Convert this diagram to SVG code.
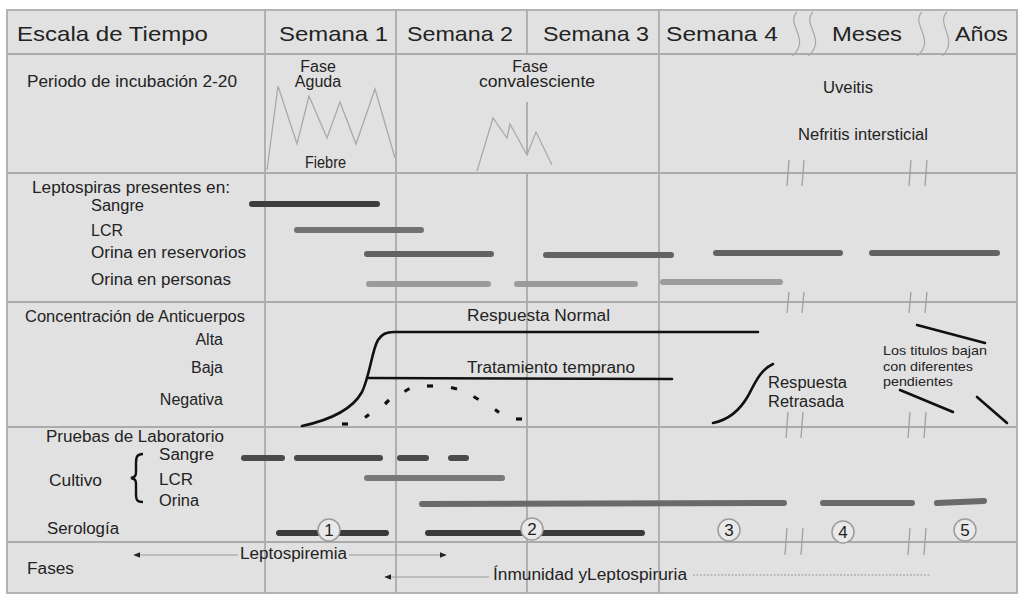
<svg xmlns="http://www.w3.org/2000/svg" width="1021" height="596" viewBox="0 0 1021 596">
<defs>
<style>
text{font-family:"Liberation Sans",Arial,sans-serif;fill:#232323;}
.h{font-size:21px;}
.l{font-size:16px;}
.s{font-size:13px;}
.r{text-anchor:end;}
.c{text-anchor:middle;}
.grid{stroke:#ababab;stroke-width:1.8;fill:none;}
.brk{stroke:#a0a0a0;stroke-width:1.3;fill:none;}
.sq{stroke:#a8a8a8;stroke-width:1.2;fill:none;}
.fev{stroke:#a9a9a9;stroke-width:1.3;fill:none;stroke-linejoin:miter;}
.bar{fill:none;stroke-linecap:round;stroke-width:6;}
.ab{fill:none;stroke:#111;stroke-width:2.6;stroke-linecap:round;}
.dot{stroke:#111;stroke-width:3.2;}
.circ{fill:#e9e9e9;stroke:#9c9c9c;stroke-width:1.5;}
.num{font-size:17px;text-anchor:middle;fill:#1e1e1e;}
.arr{stroke:#9a9a9a;stroke-width:1.2;fill:none;}
</style>
<marker id="ah" viewBox="0 0 10 10" refX="9" refY="5" markerWidth="7" markerHeight="7" orient="auto-start-reverse" markerUnits="userSpaceOnUse">
<path d="M0,1 L10,5 L0,9 Z" fill="#222"/>
</marker>
</defs>

<g id="frame">
<rect x="7" y="10" width="1010" height="583" fill="#e1e1e1" stroke="#b3b3b3" stroke-width="2"/>
<line class="grid" x1="7" y1="54" x2="1017" y2="54"/>
<line class="grid" x1="7" y1="173" x2="1017" y2="173"/>
<line class="grid" x1="7" y1="302" x2="1017" y2="302"/>
<line class="grid" x1="7" y1="427" x2="1017" y2="427"/>
<line class="grid" x1="7" y1="542" x2="1017" y2="542"/>
<line class="grid" x1="265" y1="10" x2="265" y2="593"/>
<line class="grid" x1="396" y1="10" x2="396" y2="593"/>
<path class="grid" d="M527,10 V54 M527,102 V155 M527,173 V593"/>
<line class="grid" x1="659" y1="10" x2="659" y2="593"/>
</g>

<g id="breaks">
<path class="brk" d="M789,160 L787,186 M804,160 L802,186 M911,160 L909,186 M927,160 L925,186"/>
<path class="brk" d="M789,292 L787,313 M804,292 L802,313 M911,292 L909,313 M927,292 L925,313"/>
<path class="brk" d="M788,412 L786,438 M803,412 L801,438 M910,412 L908,438 M926,412 L924,438"/>
<path class="brk" d="M787,528 L785,555 M803,528 L801,555 M910,528 L908,555 M926,528 L924,555"/>
</g>

<g id="header">
<text class="h" x="17" y="41" textLength="191" lengthAdjust="spacingAndGlyphs">Escala de Tiempo</text>
<text class="h" x="279" y="41" textLength="109" lengthAdjust="spacingAndGlyphs">Semana 1</text>
<text class="h" x="407" y="41" textLength="106" lengthAdjust="spacingAndGlyphs">Semana 2</text>
<text class="h" x="543" y="41" textLength="106" lengthAdjust="spacingAndGlyphs">Semana 3</text>
<text class="h" x="666" y="41" textLength="112" lengthAdjust="spacingAndGlyphs">Semana 4</text>
<text class="h" x="832" y="41" textLength="70" lengthAdjust="spacingAndGlyphs">Meses</text>
<text class="h" x="955" y="41" textLength="53" lengthAdjust="spacingAndGlyphs">Años</text>
<path class="sq" d="M797,12 C785,24 812,40 792,56 M813,12 C801,24 828,40 808,56 M922,12 C910,24 937,40 917,56 M947,12 C935,24 960,40 942,56"/>
</g>

<g id="clinical">
<text class="l" x="27" y="87" textLength="210" lengthAdjust="spacingAndGlyphs">Periodo de incubación 2-20</text>
<text class="l c" x="318" y="72">Fase</text>
<text class="l c" x="318" y="87">Aguda</text>
<text class="l" x="305" y="168" textLength="41" lengthAdjust="spacingAndGlyphs">Fiebre</text>
<path class="fev" d="M267,170 L278,86 L297,144 L309,96 L327,138 L340,102 L356,144 L375,89 L395,158"/>
<text class="l c" x="530" y="72">Fase</text>
<text class="l" x="479" y="87" textLength="116" lengthAdjust="spacingAndGlyphs">convalesciente</text>
<path class="fev" d="M477,171 L493,118 L507,138 L510,124 L527,155 L536,132 L552,165"/>
<text class="l" x="823" y="93" textLength="50" lengthAdjust="spacingAndGlyphs">Uveitis</text>
<text class="l" x="798" y="140" textLength="130" lengthAdjust="spacingAndGlyphs">Nefritis intersticial</text>
</g>

<g id="leptospiras">
<text class="l" x="32" y="193" textLength="198" lengthAdjust="spacingAndGlyphs">Leptospiras presentes en:</text>
<text class="l" x="91" y="211" textLength="53" lengthAdjust="spacingAndGlyphs">Sangre</text>
<text class="l" x="91" y="236" textLength="32" lengthAdjust="spacingAndGlyphs">LCR</text>
<text class="l" x="91" y="258" textLength="155" lengthAdjust="spacingAndGlyphs">Orina en reservorios</text>
<text class="l" x="91" y="285" textLength="140" lengthAdjust="spacingAndGlyphs">Orina en personas</text>
<path class="bar" stroke="#3e3e3e" d="M252,204 L377,204"/>
<path class="bar" stroke="#727272" d="M297,230 L421,230"/>
<path class="bar" stroke="#626262" d="M367,254 L491,254 M546,255 L671,255 M716,253 L840,253 M872,253 L997,253"/>
<path class="bar" stroke="#9b9b9b" d="M369,284 L488,284 M517,284 L635,284 M663,282 L780,282"/>
</g>

<g id="anticuerpos">
<text class="l" x="25" y="322" textLength="220" lengthAdjust="spacingAndGlyphs">Concentración de Anticuerpos</text>
<text class="l r" x="223" y="345">Alta</text>
<text class="l r" x="223" y="373">Baja</text>
<text class="l r" x="223" y="405">Negativa</text>
<text class="l" x="467" y="321" textLength="143" lengthAdjust="spacingAndGlyphs">Respuesta Normal</text>
<text class="l" x="467" y="373" textLength="168" lengthAdjust="spacingAndGlyphs">Tratamiento temprano</text>
<path class="ab" d="M302,426 C330,420 352,410 362,392 C370,375 372,350 378,340 C382,334 386,332 394,332 L758,332"/>
<path class="ab" d="M367,378 L672,379"/>
<path class="ab" d="M713,423 C728,420 740,410 748,396 C755,383 760,370 773,364"/>
<g id="dotted">
<line class="dot" x1="342" y1="424" x2="348" y2="424"/>
<line class="dot" x1="365" y1="417.5" x2="369" y2="414.5"/>
<line class="dot" x1="385" y1="404" x2="389" y2="400"/>
<line class="dot" x1="404.5" y1="391.5" x2="409.5" y2="388.5"/>
<line class="dot" x1="427" y1="386" x2="433" y2="386"/>
<line class="dot" x1="451" y1="387.5" x2="457" y2="389"/>
<line class="dot" x1="473.5" y1="396.5" x2="478.5" y2="399.5"/>
<line class="dot" x1="495" y1="409.5" x2="499" y2="412.5"/>
<line class="dot" x1="516" y1="419" x2="522" y2="419"/>
</g>
<text class="l" x="768" y="388" textLength="79" lengthAdjust="spacingAndGlyphs">Respuesta</text>
<text class="l" x="768" y="407" textLength="76" lengthAdjust="spacingAndGlyphs">Retrasada</text>
<text class="s" x="883" y="355" textLength="104" lengthAdjust="spacingAndGlyphs">Los titulos bajan</text>
<text class="s" x="883" y="371" textLength="90" lengthAdjust="spacingAndGlyphs">con diferentes</text>
<text class="s" x="883" y="386" textLength="70" lengthAdjust="spacingAndGlyphs">pendientes</text>
<path class="ab" d="M917,325 L985,343 M900,390 L953,412 M977,397 L1007,423"/>
</g>

<g id="laboratorio">
<text class="l" x="46" y="442" textLength="178" lengthAdjust="spacingAndGlyphs">Pruebas de Laboratorio</text>
<text class="l" x="159" y="460" textLength="55" lengthAdjust="spacingAndGlyphs">Sangre</text>
<text class="l" x="49" y="486" textLength="53" lengthAdjust="spacingAndGlyphs">Cultivo</text>
<text class="l" x="159" y="485" textLength="34" lengthAdjust="spacingAndGlyphs">LCR</text>
<text class="l" x="159" y="506" textLength="40" lengthAdjust="spacingAndGlyphs">Orina</text>
<text class="l" x="47" y="534" textLength="72" lengthAdjust="spacingAndGlyphs">Serología</text>
<path d="M143,454 C137,454 136,457 136,463 L136,472 C136,476 135,477 131,478 C135,479 136,480 136,484 L136,494 C136,500 137,502 143,502" fill="none" stroke="#111" stroke-width="2.4"/>
<path class="bar" stroke="#4a4a4a" d="M244,458 L282,458 M297,458 L380,458 M400,458 L426,458 M451,458 L466,458"/>
<path class="bar" stroke="#787878" d="M367,478 L502,478"/>
<path class="bar" stroke="#6a6a6a" d="M422,504 L784,503 M823,503 L912,503 M937,503 L984,501"/>
<path class="bar" stroke="#3a3a3a" stroke-width="7" d="M279,533 L386,533 M428,533 L642,533"/>
<circle class="circ" cx="329" cy="530" r="11"/>
<text class="num" x="329" y="536">1</text>
<circle class="circ" cx="532" cy="529" r="11"/>
<text class="num" x="532" y="535">2</text>
<circle class="circ" cx="729" cy="530" r="11"/>
<text class="num" x="729" y="536">3</text>
<circle class="circ" cx="843" cy="532" r="11"/>
<text class="num" x="843" y="538">4</text>
<circle class="circ" cx="965" cy="530" r="11"/>
<text class="num" x="965" y="536">5</text>
</g>

<g id="fases">
<text class="l" x="27" y="574" textLength="47" lengthAdjust="spacingAndGlyphs">Fases</text>
<text class="l" x="240" y="559" textLength="107" lengthAdjust="spacingAndGlyphs">Leptospiremia</text>
<text class="l" x="493" y="580" textLength="194" lengthAdjust="spacingAndGlyphs">Ínmunidad yLeptospiruria</text>
</g>

<g id="connectors">
<path class="arr" d="M238,555 L134,555" marker-end="url(#ah)"/>
<path class="arr" d="M349,555 L446,555" marker-end="url(#ah)"/>
<path class="arr" d="M489,577 L385,577" marker-end="url(#ah)"/>
<path class="arr" stroke-dasharray="2 1.5" stroke-width="1" d="M693,575 L930,575"/>
</g>
</svg>
